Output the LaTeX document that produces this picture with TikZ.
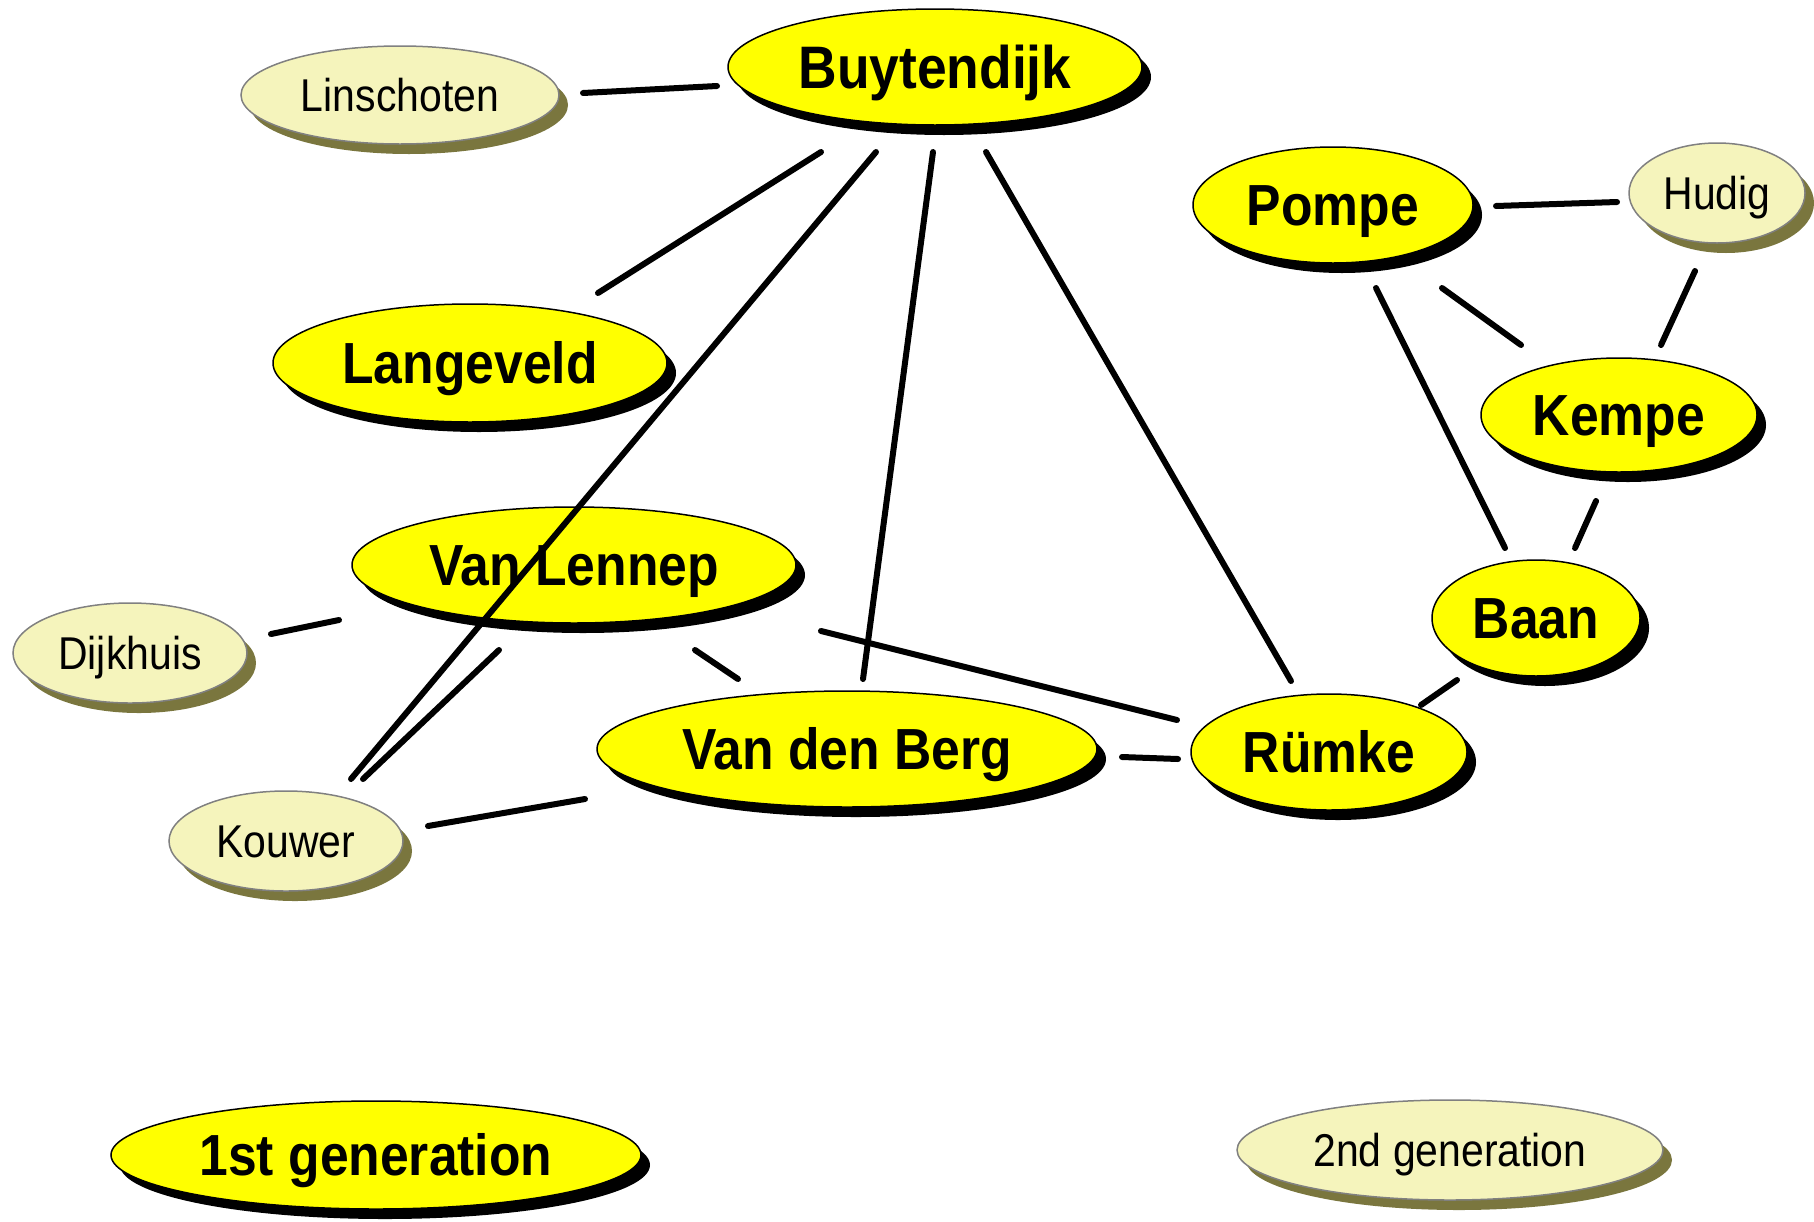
\documentclass[tikz,border=0pt]{standalone}
\usepackage{fontspec}
\setmainfont{Liberation Sans}[FakeStretch=0.89]
\usetikzlibrary{shapes.geometric,shadows,calc}
\definecolor{paleyellow}{RGB}{245,244,188}
\definecolor{paleshadow}{RGB}{122,118,62}
\definecolor{paleborder}{RGB}{128,128,128}
\definecolor{brightyellow}{RGB}{255,255,0}
\tikzset{
  gen1/.style={ellipse, draw=black, line width=1.5pt, fill=brightyellow, inner sep=0pt,
    drop shadow={shadow xshift=9pt, shadow yshift=-10pt, fill=black, opacity=1},
    font=\fontsize{58}{60}\selectfont\bfseries, text height=41.5pt, text depth=0pt},
  gen2/.style={ellipse, draw=paleborder, line width=1.5pt, fill=paleyellow, inner sep=0pt,
    drop shadow={shadow xshift=9pt, shadow yshift=-10pt, fill=paleshadow, opacity=1},
    font=\fontsize{46}{50}\selectfont, text height=33pt, text depth=0pt},
  link/.style={line width=6pt, line cap=round},
}
\begin{document}
\begin{tikzpicture}[x=1pt,y=-1pt]
\useasboundingbox (0,0) rectangle (1814,1221);
% first generation
\node[gen1, minimum width=414pt, minimum height=116pt, font=\fontsize{60}{62}\selectfont\bfseries, text height=43pt] (buy) at (935,67) {Buytendijk};
\node[gen1, minimum width=280pt, minimum height=116pt] (pom) at (1333,205) {Pompe};
\node[gen1, minimum width=394pt, minimum height=118pt] (lan) at (470,363) {Langeveld};
\node[gen1, minimum width=276pt, minimum height=114pt] (kem) at (1619,415) {Kempe};
\node[gen1, minimum width=444pt, minimum height=116pt] (vl) at (574,565) {Van Lennep};
\node[gen1, minimum width=208pt, minimum height=116pt] (baa) at (1536,618) {Baan};
\node[gen1, minimum width=500pt, minimum height=116pt] (vdb) at (847,749) {Van den Berg};
\node[gen1, minimum width=276pt, minimum height=116pt] (rum) at (1329,752) {Rümke};
\node[gen1, minimum width=530pt, minimum height=108pt] (g1) at (376,1155) {1st generation};
% second generation
\node[gen2, minimum width=318pt, minimum height=98pt] (lin) at (400,95) {Linschoten};
\node[gen2, minimum width=176pt, minimum height=100pt] (hud) at (1717,193) {Hudig};
\node[gen2, minimum width=234pt, minimum height=100pt] (dij) at (130,653) {Dijkhuis};
\node[gen2, minimum width=234pt, minimum height=100pt] (kou) at (286,841) {Kouwer};
\node[gen2, minimum width=426pt, minimum height=100pt] (g2) at (1450,1150) {2nd generation};
% connectors
\draw[link] ($(lin)+(183,-2)$) -- ($(buy)+(-218,19)$);
\draw[link] ($(buy)+(-114,85)$) -- ($(lan)+(128,-70)$);
\draw[link] ($(buy)+(-59,85)$) -- ($(kou)+(65,-62)$);
\draw[link] ($(buy)+(-2,85)$) -- ($(vdb)+(16,-70)$);
\draw[link] ($(buy)+(51,85)$) -- ($(rum)+(-38,-71)$);
\draw[link] ($(pom)+(163,1)$) -- ($(hud)+(-100,9)$);
\draw[link] ($(pom)+(109,83)$) -- ($(kem)+(-98,-70)$);
\draw[link] ($(pom)+(43,83)$) -- ($(baa)+(-31,-70)$);
\draw[link] ($(hud)+(-22,78)$) -- ($(kem)+(42,-70)$);
\draw[link] ($(kem)+(-23,86)$) -- ($(baa)+(39,-70)$);
\draw[link] ($(baa)+(-79,62)$) -- ($(rum)+(92,-47)$);
\draw[link] ($(dij)+(141,-19)$) -- ($(vl)+(-235,55)$);
\draw[link] ($(vl)+(-75,85)$) -- ($(kou)+(77,-62)$);
\draw[link] ($(vl)+(121,85)$) -- ($(vdb)+(-109,-70)$);
\draw[link] ($(vl)+(247,66)$) -- ($(rum)+(-152,-32)$);
\draw[link] ($(vdb)+(275,8)$) -- ($(rum)+(-151,7)$);
\draw[link] ($(kou)+(142,-15)$) -- ($(vdb)+(-262,50)$);
\end{tikzpicture}
\end{document}
